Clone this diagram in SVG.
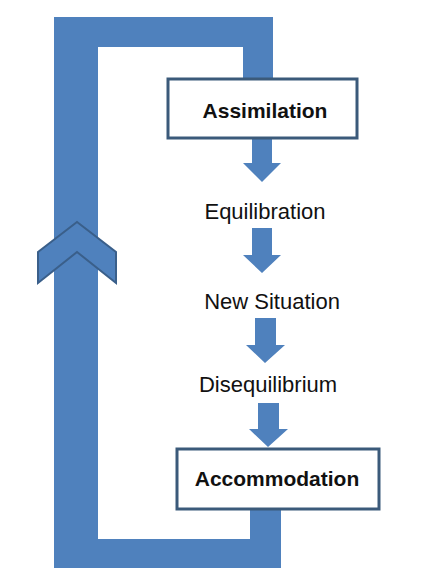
<svg xmlns="http://www.w3.org/2000/svg" width="441" height="581" viewBox="0 0 441 581">
<style>
.band{fill:#4f81bd}
.arr{fill:#4f81bd}
.box{fill:#fff;stroke:#3b5a7a;stroke-width:3}
.t{font-family:"Liberation Sans",Arial,sans-serif;font-size:22px;fill:#111;text-anchor:middle}
.b{font-family:"Liberation Sans",Arial,sans-serif;font-size:21px;font-weight:bold;fill:#111;text-anchor:middle}
</style>
<rect width="441" height="581" fill="#fff"/>
<g id="connectors">
<path class="band" d="M54,17 H273 V80 H243 V47 H98 V539 H250 V508 H281 V568 H54 Z"/>
<polygon points="38,252 77,222 116,252 116,283 77,252 38,283" fill="#4f81bd" stroke="#3a5f8a" stroke-width="2" stroke-linejoin="miter"/>
<polygon class="arr" points="252,138 272,138 272,163 281,163 262,182 243,163 252,163"/>
<polygon class="arr" points="252,228 272,228 272,255 281,255 262,273 243,255 252,255"/>
<polygon class="arr" points="255,318 276,318 276,345 285,345 265,363 246,345 255,345"/>
<polygon class="arr" points="258,403 279,403 279,429 288,429 268,447 249,429 258,429"/>
</g>
<g id="assimilation">
<rect class="box" x="168" y="79" width="189" height="59"/>
<text class="b" x="265" y="118">Assimilation</text>
</g>
<g id="equilibration">
<text class="t" x="265" y="219">Equilibration</text>
</g>
<g id="new-situation">
<text class="t" x="272" y="309">New Situation</text>
</g>
<g id="disequilibrium">
<text class="t" x="268" y="392">Disequilibrium</text>
</g>
<g id="accommodation">
<rect class="box" x="177" y="449" width="202" height="60"/>
<text class="b" x="277" y="486">Accommodation</text>
</g>
</svg>
